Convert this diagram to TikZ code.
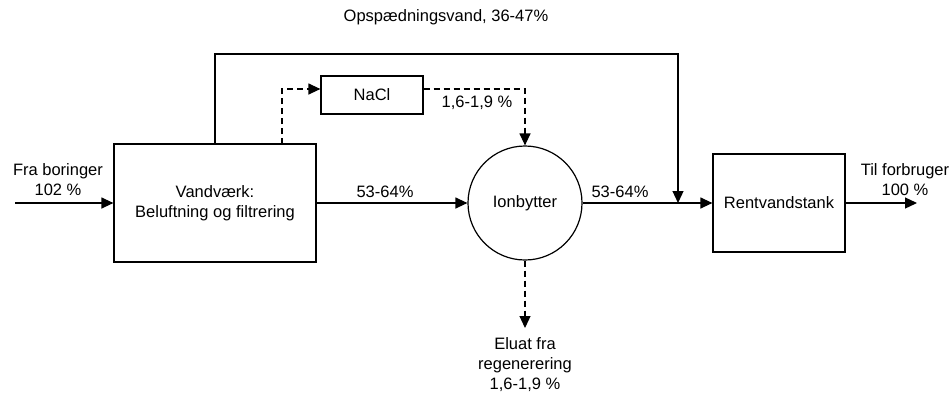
\documentclass[tikz,border=0pt]{standalone}
\usepackage{fontspec}
\setmainfont{Liberation Sans}
\usetikzlibrary{arrows.meta}
\begin{document}
\begin{tikzpicture}[x=1pt,y=-1pt,
  every node/.style={font=\fontsize{16.5}{20}\selectfont},
  boxn/.style={draw,line width=1.2pt,inner sep=0pt,align=center},
  flow/.style={line width=1.2pt,-{Triangle[length=12pt,width=11pt]}},
  dflow/.style={flow,dash pattern=on 6pt off 4pt},
  lbl/.style={align=center,inner sep=0pt}]
\useasboundingbox (0,0) rectangle (952,394);
\node[boxn,minimum width=202pt,minimum height=118pt] (vv) at (215,203) {Vandværk:\\Beluftning og filtrering};
\node[boxn,minimum width=102pt,minimum height=38pt] (nacl) at (372,95) {NaCl};
\node[draw,circle,line width=1.2pt,minimum size=114pt,inner sep=0pt] (ion) at (525,203) {Ionbytter};
\node[boxn,minimum width=132pt,minimum height=98pt] (tank) at (779,203) {Rentvandstank};
\coordinate (in) at (15,203);
\coordinate (out) at (917,203);
\coordinate (join) at (678,203);
\coordinate (elu) at (525,328);
\draw[flow] (in) -- (vv.west);
\draw[flow] (vv.east) -- (ion.west);
\draw[flow] (ion.east) -- (tank.west);
\draw[flow] (tank.east) -- (out);
\draw[flow] (215,144) -- (215,54) -- (678,54) -- (join);
\draw[dflow] (282,144) -- (282,89) -- (nacl.west |- 0,89);
\draw[dflow] (nacl.east |- 0,89) -- (525,89) -- (ion.north);
\draw[dflow] (ion.south) -- (elu);
\node[lbl] (t1) at (58,180) {Fra boringer\\102 \%};
\node[lbl] (t2) at (385,192) {53-64\%};
\node[lbl] (t3) at (620,192) {53-64\%};
\node[lbl] (t4) at (905,180) {Til forbruger\\100 \%};
\node[lbl] (t5) at (477,103) {1,6-1,9 \%};
\node[lbl] (t6) at (446,17) {Opspædningsvand, 36-47\%};
\node[lbl,anchor=north] (t7) at (525,337) {Eluat fra\\regenerering\\1,6-1,9 \%};
\end{tikzpicture}
\end{document}
